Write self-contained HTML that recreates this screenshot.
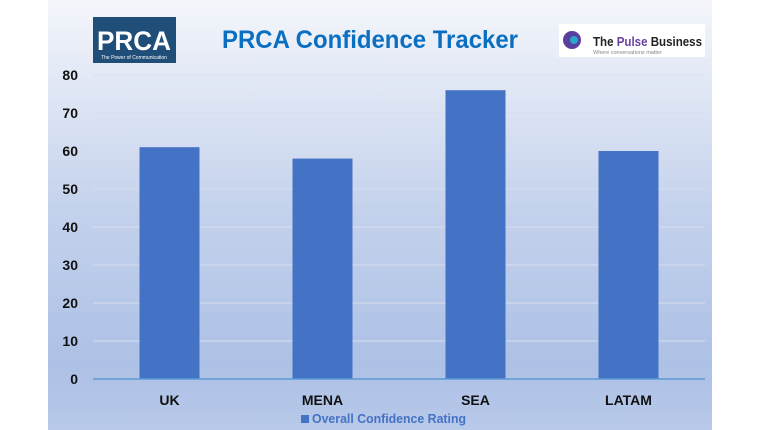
<!DOCTYPE html>
<html><head><meta charset="utf-8"><style>
html,body{margin:0;padding:0;width:760px;height:430px;overflow:hidden;background:#fff;font-family:"Liberation Sans",sans-serif}
</style></head><body>
<svg width="760" height="430" xmlns="http://www.w3.org/2000/svg">
<defs><linearGradient id="bg" x1="0" y1="0" x2="0" y2="1">
<stop offset="0" stop-color="#f4f6fb"/><stop offset="0.5" stop-color="#c3d1ec"/><stop offset="0.85" stop-color="#adc1e6"/><stop offset="1" stop-color="#b8c9e9"/></linearGradient></defs>
<rect x="48" y="0" width="664" height="430" fill="url(#bg)"/>
<g>
<rect x="93" y="17" width="83" height="46" fill="#1f4e79"/>
<text x="134" y="50" text-anchor="middle" font-size="27" font-weight="bold" fill="#fff" textLength="74" lengthAdjust="spacingAndGlyphs">PRCA</text>
<text x="134" y="59" text-anchor="middle" font-size="5" fill="#fff">The Power of Communication</text>
</g>
<text x="370" y="48" text-anchor="middle" font-size="25" font-weight="bold" fill="#0b6fc1" textLength="296" lengthAdjust="spacingAndGlyphs">PRCA Confidence Tracker</text>
<g>
<rect x="559" y="24" width="146" height="33" fill="#fff"/>
<circle cx="572" cy="40" r="9" fill="#5a3fa0"/><circle cx="574" cy="40" r="4" fill="#2aa6c9"/>
<text x="593" y="46" font-size="12.5" font-weight="bold" fill="#222" textLength="109" lengthAdjust="spacingAndGlyphs">The <tspan fill="#6a3fa5">Pulse</tspan> Business</text>
<text x="593" y="54" font-size="5.5" fill="#888">Where conversations matter</text>
</g>
<g id="plot"></g>
</svg>
<script>
const categories = ["UK","MENA","SEA","LATAM"];
const values = [61,58,76,60];
const ticks = [0,10,20,30,40,50,60,70,80];
const legendLabel = "Overall Confidence Rating";
const NS="http://www.w3.org/2000/svg";
const g=document.getElementById('plot');
const x0=93,x1=705,y0=379,yTop=75,yMax=80;
const ys=v=>y0-(v/yMax)*(y0-yTop);
const band=(x1-x0)/categories.length;
const xs=i=>x0+band*(i+0.5);
function mk(t,a){const e=document.createElementNS(NS,t);for(const k in a)e.setAttribute(k,a[k]);g.appendChild(e);return e;}
ticks.forEach(t=>{
  if(t>0){const l=mk('line',{x1:x0,x2:x1,y1:ys(t),y2:ys(t),stroke:'#d6deee','stroke-width':1});
  
  }
  const tx=mk('text',{x:78,y:ys(t)+5,'text-anchor':'end','font-size':14,'font-weight':'bold',fill:'#111'});
  tx.textContent=t;
  
  
});
values.forEach((v,i)=>{
  const r=mk('rect',{x:xs(i)-30,y:ys(v),width:60,height:y0-ys(v),fill:'#4472c4'});
  
  
  const tx=mk('text',{x:xs(i),y:405,'text-anchor':'middle','font-size':14,'font-weight':'bold',fill:'#111'});
  tx.textContent=categories[i];
  
  
});
const ax=mk('line',{x1:x0,x2:x1,y1:y0,y2:y0,stroke:'#5b9bd5','stroke-width':1.5});


const lm=mk('rect',{x:301,y:415,width:8,height:8,fill:'#4472c4'});


const lt=mk('text',{x:312,y:423,'font-size':12.5,'font-weight':'bold',fill:'#4472c4','textLength':154,'lengthAdjust':'spacingAndGlyphs'});
lt.textContent=legendLabel;


</script>
</body></html>
